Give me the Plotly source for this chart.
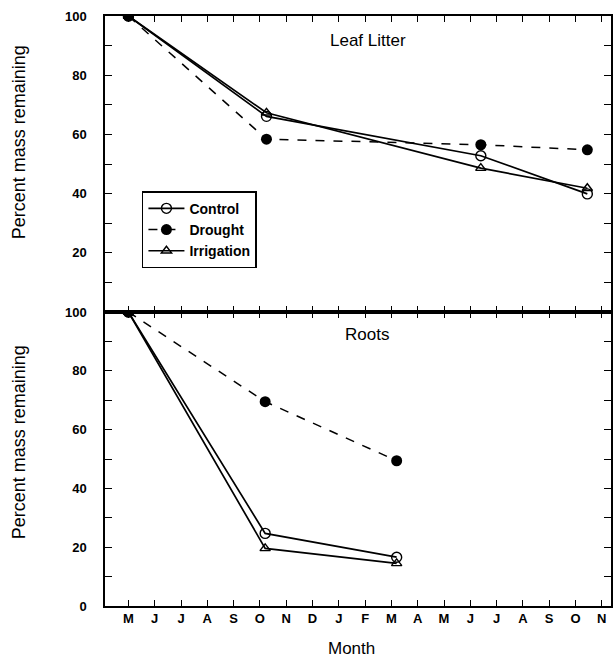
import plotly.graph_objects as go

months = ["M", "J", "J", "A", "S", "O", "N", "D", "J", "F", "M", "A", "M", "J", "J", "A", "S", "O", "N"]
month_pos = list(range(len(months)))

# Leaf litter (x = months since May of year 1)
leaf_x = [0, 5.25, 13.4, 17.45]
leaf_control = [100, 66.1, 52.8, 39.9]
leaf_drought = [100, 58.4, 56.5, 54.8]
leaf_irrigation = [100, 67.3, 48.6, 41.8]

# Roots
root_x = [0, 5.2, 10.2]
root_control = [100, 24.7, 16.6]
root_drought = [100, 69.5, 49.4]
root_irrigation = [100, 19.6, 14.5]

FONT = "Liberation Sans, Arial, sans-serif"
BLACK = "#000000"

def add_series(fig, x, y, name, xa, ya, showlegend):
    if name == "Control":
        marker = dict(symbol="circle-open", size=10, color=BLACK, line=dict(width=1.4, color=BLACK))
        line = dict(color=BLACK, width=1.7)
    elif name == "Drought":
        marker = dict(symbol="circle", size=11, color=BLACK)
        line = dict(color=BLACK, width=1.5, dash="dash")
    else:
        marker = dict(symbol="triangle-up-open", size=9, color=BLACK, line=dict(width=1.4, color=BLACK))
        line = dict(color=BLACK, width=1.7)
    fig.add_trace(go.Scatter(x=x, y=y, name=name, mode="lines+markers", marker=marker, line=line,
                             xaxis=xa, yaxis=ya, showlegend=showlegend, legendgroup=name))

fig = go.Figure()
for nm, ys in [("Control", leaf_control), ("Drought", leaf_drought), ("Irrigation", leaf_irrigation)]:
    add_series(fig, leaf_x, ys, nm, "x2", "y", True)
for nm, ys in [("Control", root_control), ("Drought", root_drought), ("Irrigation", root_irrigation)]:
    add_series(fig, root_x, ys, nm, "x", "y2", False)

split = 1 - 296 / 590
xrange = [-0.89, 18.35]
yt = list(range(0, 101, 10))

common_x = dict(range=xrange, tickvals=month_pos, ticks="inside", ticklen=6, tickwidth=1,
                tickcolor=BLACK, showline=True, linecolor=BLACK, linewidth=1.5, mirror="ticks",
                showgrid=False, zeroline=False)
common_y = dict(range=[0, 100], tickvals=yt, ticks="inside", ticklen=7, tickwidth=1,
                tickcolor=BLACK, showline=True, linecolor=BLACK, linewidth=1.5, mirror="ticks",
                showgrid=False, zeroline=False, ticklabelstandoff=14,
                tickfont=dict(family=FONT, size=13, color=BLACK, weight="bold"))

fig.update_layout(
    width=614, height=657,
    margin=dict(l=105, r=1, t=16, b=51),
    paper_bgcolor="white", plot_bgcolor="white",
    font=dict(family=FONT, color=BLACK),
    xaxis=dict(**common_x, anchor="y2", ticktext=months,
               tickfont=dict(family=FONT, size=13, color=BLACK, weight="bold")),
    xaxis2=dict(**common_x, anchor="y", matches="x", showticklabels=False),
    yaxis=dict(**common_y, domain=[split, 1], anchor="x2",
               ticktext=["" if v == 0 or v % 20 else str(v) for v in yt]),
    yaxis2=dict(**common_y, domain=[0, split], anchor="x",
               ticktext=[str(v) if v % 20 == 0 else "" for v in yt]),
    legend=dict(x=0.073, y=0.703, xanchor="left", yanchor="top", bgcolor="white",
                bordercolor=BLACK, borderwidth=1.5,
                font=dict(family=FONT, size=14, color=BLACK, weight="bold"),
                tracegroupgap=0, itemwidth=36),
    showlegend=True,
)

fig.add_annotation(text="Leaf Litter", x=0.52, y=1 - (40 - 16) / 590, xref="paper", yref="paper",
                   xanchor="center", yanchor="middle",
                   showarrow=False, font=dict(family=FONT, size=17, color=BLACK))
fig.add_annotation(text="Roots", x=0.517, y=1 - (334 - 16) / 590, xref="paper", yref="paper",
                   xanchor="center", yanchor="middle",
                   showarrow=False, font=dict(family=FONT, size=17, color=BLACK))
for yc_px in [142, 442]:
    fig.add_annotation(text="Percent mass remaining", x=(19 - 105) / 508, y=1 - (yc_px - 16) / 590,
                       xref="paper", yref="paper", xanchor="center", yanchor="middle",
                       textangle=-90, showarrow=False, font=dict(family=FONT, size=18, color=BLACK))
fig.add_annotation(text="Month", x=(352 - 105) / 508, y=(606 - 648) / 590, xref="paper", yref="paper",
                   xanchor="center", yanchor="middle",
                   showarrow=False, font=dict(family=FONT, size=17, color=BLACK))

fig.write_html("out.html")
